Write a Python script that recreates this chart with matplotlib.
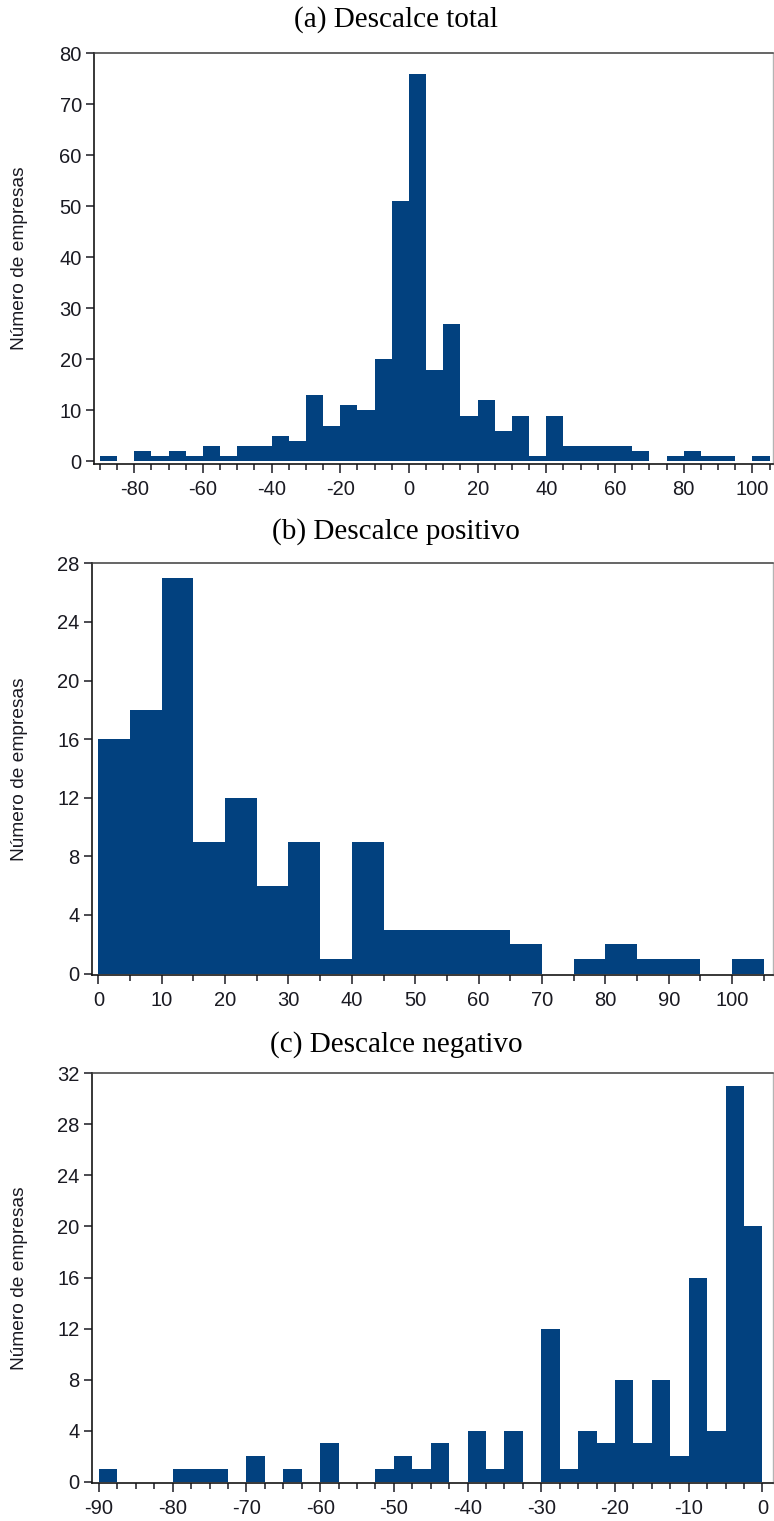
import matplotlib
matplotlib.use("Agg")
import matplotlib.pyplot as plt
import numpy as np
from matplotlib.ticker import MultipleLocator

plt.rcParams["axes.unicode_minus"] = False

# bin edges and counts
edges_total = np.arange(-90, 106, 5)
counts_total = [1, 0, 2, 1, 2, 1, 3, 1, 3, 3, 5, 4, 13, 7, 11, 10, 20, 51,
                76, 18, 27, 9, 12, 6, 9, 1, 9, 3, 3, 3, 3, 2, 0, 1, 2, 1, 1, 0, 1]

edges_pos = np.arange(0, 106, 5)
counts_pos = [16, 18, 27, 9, 12, 6, 9, 1, 9, 3, 3, 3, 3, 2, 0, 1, 2, 1, 1, 0, 1]

edges_neg = np.arange(-90, 0.1, 2.5)
counts_neg = [1, 0, 0, 0, 1, 1, 1, 0, 2, 0, 1, 0, 3, 0, 0, 1, 2, 1, 3, 0,
              4, 1, 4, 0, 12, 1, 4, 3, 8, 3, 8, 2, 16, 4, 31, 20]

titles = ["(a) Descalce total", "(b) Descalce positivo", "(c) Descalce negativo"]
ylabel = "Número de empresas"

bar_color = "#02417F"
txt_color = "#1a1a22"

W, H = 774, 1521
fig = plt.figure(figsize=(W / 100, H / 100), dpi=100)


def px_axes(left, top, right, bottom):
    return fig.add_axes([left / W, 1 - bottom / H, (right - left) / W, (bottom - top) / H])


panels = [
    dict(box=(94, 53.3, 773, 464), edges=edges_total, counts=counts_total,
         xlim=(-91.7, 106.0), ylim=(-0.5, 80), xmaj=20, xmin=5, ymaj=10, title_y=20),
    dict(box=(91.7, 563.3, 772.7, 975), edges=edges_pos, counts=counts_pos,
         xlim=(-1.05, 106.4), ylim=(-0.1, 28), xmaj=10, xmin=5, ymaj=4, title_y=532),
    dict(box=(91.7, 1073.3, 772.7, 1483), edges=edges_neg, counts=counts_neg,
         xlim=(-91.0, 1.4), ylim=(-0.1, 32), xmaj=10, xmin=2.5, ymaj=4, title_y=1045),
]

for p, title in zip(panels, titles):
    ax = px_axes(*p["box"])
    ax.stairs(p["counts"], p["edges"], fill=True, color=bar_color)
    ax.set_xlim(*p["xlim"])
    ax.set_ylim(*p["ylim"])

    ax.xaxis.set_major_locator(MultipleLocator(p["xmaj"]))
    ax.xaxis.set_minor_locator(MultipleLocator(p["xmin"]))
    ax.yaxis.set_major_locator(MultipleLocator(p["ymaj"]))

    ax.tick_params(axis="x", which="major", direction="out", length=6.5, width=1.1,
                   pad=5, labelsize=14.5, colors=txt_color)
    ax.tick_params(axis="x", which="minor", direction="out", length=4.3, width=1.1,
                   colors=txt_color)
    ax.tick_params(axis="y", which="major", direction="out", length=5.8, width=1.1,
                   pad=3, labelsize=14.5, colors=txt_color)
    for lab in ax.get_xticklabels() + ax.get_yticklabels():
        lab.set_family("Liberation Sans")

    ax.spines["left"].set_color("#151515")
    ax.spines["left"].set_linewidth(1.2)
    ax.spines["bottom"].set_color("#151515")
    ax.spines["bottom"].set_linewidth(1.2)
    ax.spines["top"].set_color("#3c3c3c")
    ax.spines["top"].set_linewidth(1.1)
    ax.spines["right"].set_color("#b4b4b4")
    ax.spines["right"].set_linewidth(1.0)

    fig.text(396 / W, 1 - p["title_y"] / H, title, ha="center", va="center",
             family="Liberation Serif", fontsize=21, color="black")
    top, bottom = p["box"][1], p["box"][3]
    fig.text(20 / W, 1 - (top + bottom) / 2 / H, ylabel, rotation=90,
             ha="center", va="center", family="Liberation Sans", fontsize=13.8,
             color=txt_color)

fig.savefig("out.png", dpi=100)
